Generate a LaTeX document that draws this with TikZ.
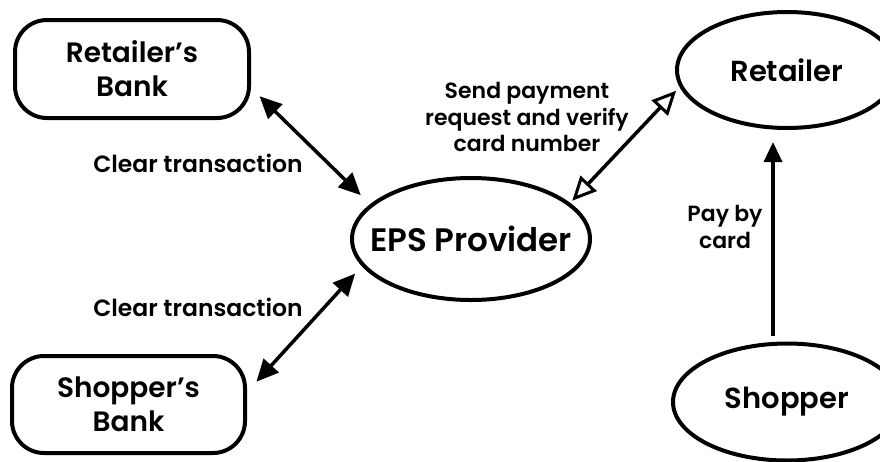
\documentclass[tikz,border=0pt]{standalone}
\usepackage{fontspec}
\setmainfont{Poppins}[BoldFont={Poppins SemiBold}]
\usetikzlibrary{shapes.geometric,arrows.meta}
\tikzset{
  boxnode/.style={draw,line width=4pt,rounded corners=32pt,inner sep=0pt,align=center,font=\fontsize{28}{34}\selectfont\bfseries},
  ellnode/.style={draw,ellipse,line width=4pt,inner sep=0pt},
  lbl/.style={align=center,inner sep=0pt},
  conn/.style={line width=3.5pt}
}
\begin{document}
\begin{tikzpicture}[x=1pt,y=-1pt]
\clip (0,0) rectangle (880,461);
\fill[white] (0,0) rectangle (880,461);
\node[boxnode,minimum width=234pt,minimum height=98pt] (rb) at (132,69) {Retailer’s\\Bank};
\node[boxnode,minimum width=233pt,minimum height=97pt] (sb) at (128.5,404.5) {Shopper’s\\Bank};
\node[ellnode,minimum width=238pt,minimum height=122pt,label={[font=\fontsize{32.5}{34}\selectfont\bfseries]center:EPS Provider}] (eps) at (471,239) {};
\node[ellnode,minimum width=220pt,minimum height=116pt,label={[font=\fontsize{29}{34}\selectfont\bfseries]center:Retailer}] (ret) at (787,70) {};
\node[ellnode,minimum width=228pt,minimum height=117pt,label={[font=\fontsize{29}{34}\selectfont\bfseries]center:Shopper}] (shop) at (787,402) {};
\node[lbl,font=\fontsize{23.5}{27}\selectfont\bfseries] (c1) at (198,163) {Clear transaction};
\node[lbl,font=\fontsize{23.5}{27}\selectfont\bfseries] (c2) at (198,307) {Clear transaction};
\node[lbl,font=\fontsize{22}{26.5}\selectfont\bfseries] (send) at (527,117) {Send payment\\request and verify\\card number};
\node[lbl,font=\fontsize{22}{27}\selectfont\bfseries] (pay) at (725,227) {Pay by\\card};
\draw[conn,{Triangle[length=22pt,width=20pt]}-{Triangle[length=22pt,width=20pt]},shorten <=12pt,shorten >=13pt] (rb.-9.5) -- (eps.161);
\draw[conn,{Triangle[length=22pt,width=20pt]}-{Triangle[length=22pt,width=20pt]},shorten <=14pt,shorten >=10pt] (sb.6.9) -- (eps.194);
\draw[conn,{Triangle[open,length=24pt,width=22pt,line width=3pt]}-{Triangle[open,length=24pt,width=22pt,line width=3pt]},shorten <=5pt,shorten >=3pt] (ret.189) -- (eps.20);
\draw[conn,-{Triangle[length=20pt,width=18pt]},shorten <=6pt,shorten >=12pt] ([xshift=-14pt]shop.north) -- ([xshift=-14pt]ret.south);
\end{tikzpicture}
\end{document}
